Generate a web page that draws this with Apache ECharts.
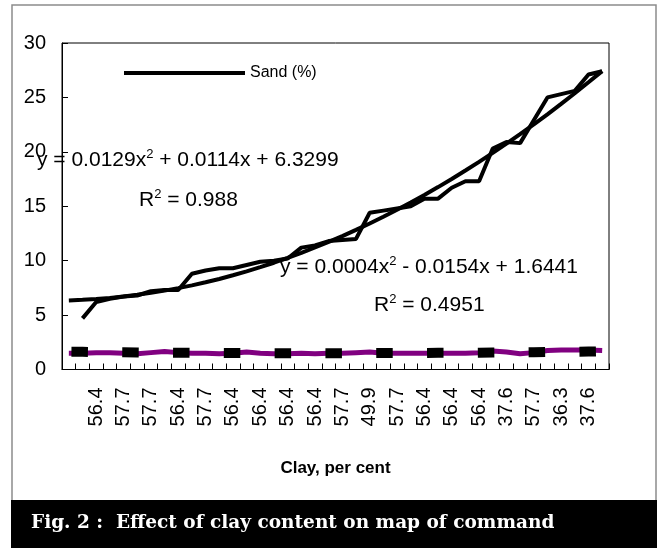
<!DOCTYPE html>
<html>
<head>
<meta charset="utf-8">
<script src="https://cdn.jsdelivr.net/npm/echarts@6/dist/echarts.min.js"></script>
<style>
html,body{margin:0;padding:0;background:#fff;}
#chart{width:657px;height:548px;}
</style>
</head>
<body>
<div id="chart"></div>
<script>
// Category labels (clay, per cent); only every other category is labelled
const categories = ['', '', '56.4', '', '57.7', '', '57.7', '', '56.4', '',
  '57.7', '', '56.4', '', '56.4', '', '56.4', '', '56.4', '',
  '57.7', '', '49.9', '', '57.7', '', '56.4', '', '56.4', '',
  '56.4', '', '37.6', '', '57.7', '', '36.3', '', '37.6', ''];

// Sand (%) observed values
const sandValues = [null, 4.7, 6.2, 6.5, 6.7, 6.8, 7.2, 7.3, 7.3, 8.8,
  9.1, 9.3, 9.3, 9.6, 9.9, 10.0, 10.2, 11.2, 11.4, 11.8,
  11.9, 12.0, 14.4, 14.6, 14.8, 15.0, 15.7, 15.7, 16.7, 17.3,
  17.3, 20.3, 20.9, 20.8, 22.9, 25.0, 25.3, 25.6, 27.1, 27.4];

// Sand polynomial trend line (as drawn)
const sandTrend = [6.35, 6.40, 6.48, 6.58, 6.71, 6.86, 7.04, 7.25, 7.48, 7.73,
  8.02, 8.32, 8.66, 9.02, 9.40, 9.81, 10.25, 10.72, 11.21, 11.72,
  12.26, 12.83, 13.42, 14.04, 14.68, 15.35, 16.04, 16.76, 17.51, 18.28,
  19.08, 19.90, 20.75, 21.63, 22.53, 23.45, 24.41, 25.38, 26.39, 27.42];

// Lower (purple) series values
const lowerValues = [1.5, 1.5, 1.55, 1.55, 1.5, 1.45, 1.55, 1.65, 1.55, 1.5,
  1.5, 1.45, 1.5, 1.6, 1.5, 1.45, 1.45, 1.5, 1.45, 1.5,
  1.5, 1.55, 1.6, 1.5, 1.5, 1.5, 1.5, 1.5, 1.5, 1.5,
  1.55, 1.7, 1.6, 1.45, 1.55, 1.75, 1.8, 1.8, 1.8, 1.75];

// Lower series polynomial trend line (as drawn, dashed)
const lowerTrend = [1.63, 1.62, 1.60, 1.59, 1.58, 1.57, 1.56, 1.55, 1.54, 1.53,
  1.52, 1.52, 1.51, 1.51, 1.50, 1.50, 1.50, 1.50, 1.50, 1.50,
  1.50, 1.50, 1.50, 1.51, 1.51, 1.51, 1.52, 1.53, 1.53, 1.54,
  1.55, 1.56, 1.57, 1.58, 1.59, 1.61, 1.62, 1.63, 1.65, 1.67];

const yTicks = { min: 0, max: 30, interval: 5 };

const SANS = "'Liberation Sans', Arial, sans-serif";

const chart = echarts.init(document.getElementById('chart'), null, { renderer: 'canvas' });

const richStyle = {
  n: { fontSize: 21, fontFamily: SANS, fill: '#000', color: '#000', lineHeight: 24 },
  s: { fontSize: 13, fontFamily: SANS, fill: '#000', color: '#000', verticalAlign: 'top', lineHeight: 24, padding: [0, 0, 10, 0] }
};

const option = {
  animation: false,
  backgroundColor: '#fff',
  grid: {
    left: 62, right: 48, top: 43, bottom: 178.5,
    show: true, borderColor: '#000', borderWidth: 1, backgroundColor: 'transparent'
  },
  legend: {
    data: [{ name: 'Sand (%)', icon: 'rect' }],
    left: 124, top: 65, padding: 0,
    itemWidth: 121, itemHeight: 4,
    itemStyle: { color: '#000' },
    textStyle: { fontSize: 16, fontFamily: SANS, color: '#000' }
  },
  xAxis: {
    type: 'category',
    data: categories,
    boundaryGap: true,
    name: 'Clay, per cent',
    nameLocation: 'middle',
    nameGap: 90,
    nameTextStyle: { fontSize: 17, fontWeight: 'bold', fontFamily: SANS, color: '#000' },
    axisLine: { lineStyle: { color: '#000', width: 1 } },
    axisTick: { show: true, interval: 0, inside: true, length: 6, lineStyle: { color: '#000' } },
    axisLabel: { interval: 0, rotate: 90, fontSize: 20, fontFamily: SANS, color: '#000', margin: 18 },
    splitLine: { show: false }
  },
  yAxis: {
    type: 'value',
    min: yTicks.min, max: yTicks.max, interval: yTicks.interval,
    axisLine: { show: true, lineStyle: { color: '#000', width: 1 } },
    axisTick: { show: true, inside: true, length: 6, lineStyle: { color: '#000' } },
    axisLabel: { fontSize: 20, fontFamily: SANS, color: '#000', margin: 16 },
    splitLine: { show: false }
  },
  series: [
    {
      name: 'Lower series',
      type: 'line',
      data: lowerValues,
      symbol: 'none',
      lineStyle: { color: '#800080', width: 5 },
      itemStyle: { color: '#800080' },
      z: 2
    },
    {
      name: 'Lower trend',
      type: 'line',
      data: lowerTrend,
      symbol: 'none',
      lineStyle: { color: '#000', width: 10, type: [16.5, 34.3], dashOffset: 48.2, cap: 'butt' },
      itemStyle: { color: '#000' },
      z: 3
    },
    {
      name: 'Sand (%)',
      type: 'line',
      data: sandValues,
      symbol: 'none',
      lineStyle: { color: '#000', width: 4 },
      itemStyle: { color: '#000' },
      z: 4
    },
    {
      name: 'Sand trend',
      type: 'line',
      data: sandTrend,
      symbol: 'none',
      lineStyle: { color: '#000', width: 4 },
      itemStyle: { color: '#000' },
      z: 5
    }
  ],
  graphic: [
    // outer frame
    { type: 'polyline', z: 100, shape: { points: [[12, 500], [12, 5], [656, 5], [656, 500]] },
      style: { stroke: '#8c8c8c', lineWidth: 1.5, fill: null } },
    // equations
    { type: 'text', z: 100, x: 37, y: 160,
      style: { text: '{n|y = 0.0129x}{s|2}{n| + 0.0114x + 6.3299}', rich: richStyle, verticalAlign: 'middle' } },
    { type: 'text', z: 100, x: 139, y: 200,
      style: { text: '{n|R}{s|2}{n| = 0.988}', rich: richStyle, verticalAlign: 'middle' } },
    { type: 'text', z: 100, x: 280, y: 267,
      style: { text: '{n|y = 0.0004x}{s|2}{n| - 0.0154x + 1.6441}', rich: richStyle, verticalAlign: 'middle' } },
    { type: 'text', z: 100, x: 374, y: 305,
      style: { text: '{n|R}{s|2}{n| = 0.4951}', rich: richStyle, verticalAlign: 'middle' } },
    // caption bar
    { type: 'rect', z: 100, shape: { x: 11, y: 500, width: 646, height: 48 }, style: { fill: '#000' } },
    { type: 'text', z: 101, x: 31, y: 523,
      style: { text: 'Fig. 2 :  Effect of clay content on map of command', fill: '#fff',
        font: "bold 18.5px 'DejaVu Serif', 'Liberation Serif', serif", verticalAlign: 'middle' } }
  ]
};

chart.setOption(option);
</script>
</body>
</html>
